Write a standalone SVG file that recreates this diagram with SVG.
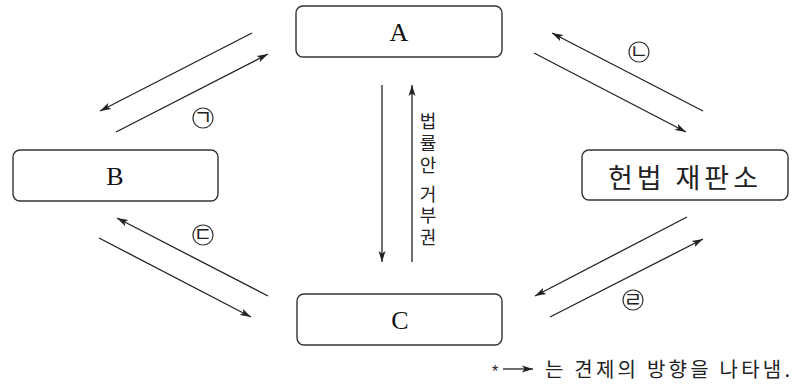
<svg xmlns="http://www.w3.org/2000/svg" width="797" height="388" viewBox="0 0 797 388">
<style>
.box{fill:#fff;stroke:#333;stroke-width:1.4}
.lbl{font-family:"Liberation Serif",serif;font-size:26px;fill:#111;text-anchor:middle}
.kr{font-family:"Noto Sans CJK KR","Noto Sans",sans-serif;fill:#222}
.ln{stroke:#222;stroke-width:1.3;fill:none;marker-end:url(#ah)}
.circ{fill:#fff;stroke:#333;stroke-width:1.2}
.mk{font-family:"Noto Sans CJK KR",sans-serif;font-size:20px;fill:#222;text-anchor:middle}
</style>
<defs>
<marker id="ah" markerUnits="userSpaceOnUse" markerWidth="12" markerHeight="8" refX="11" refY="4" orient="auto">
<path d="M0,0.5 L11,4 L0,7.5 L2.5,4 z" fill="#222"/>
</marker>
</defs>
<rect width="797" height="388" fill="#fff"/>
<g id="nodeA"><rect class="box" x="296" y="6" width="206" height="51" rx="7"/><text class="lbl" x="399" y="41">A</text></g>
<g id="nodeB"><rect class="box" x="13" y="150" width="205" height="51" rx="7"/><text class="lbl" x="115" y="185">B</text></g>
<g id="nodeC"><rect class="box" x="297" y="294" width="205" height="51" rx="7"/><text class="lbl" x="400" y="329">C</text></g>
<g id="nodeCourt"><rect class="box" x="582" y="150" width="206" height="50" rx="7"/><text class="kr" x="608" y="188" font-size="27" textLength="150" lengthAdjust="spacing">헌법 재판소</text></g>
<g id="connectors">
<line class="ln" x1="252" y1="33" x2="100" y2="111"/>
<line class="ln" x1="116" y1="132" x2="268" y2="54"/>
<line class="ln" x1="703" y1="111" x2="552" y2="33"/>
<line class="ln" x1="534" y1="53" x2="686" y2="132"/>
<line class="ln" x1="268" y1="296" x2="117" y2="218"/>
<line class="ln" x1="99" y1="238" x2="251" y2="317"/>
<line class="ln" x1="687" y1="217" x2="535" y2="296"/>
<line class="ln" x1="550" y1="317" x2="703" y2="239"/>
<line class="ln" x1="382" y1="85" x2="382" y2="262"/>
<line class="ln" x1="412" y1="262" x2="412" y2="85"/>
</g>
<g id="labels">
<circle class="circ" cx="203" cy="118" r="10"/><text class="mk" x="203" y="125">ㄱ</text>
<circle class="circ" cx="639" cy="52" r="10"/><text class="mk" x="639" y="59">ㄴ</text>
<circle class="circ" cx="203" cy="235" r="10"/><text class="mk" x="203" y="242">ㄷ</text>
<circle class="circ" cx="633" cy="300" r="10"/><text class="mk" x="633" y="307">ㄹ</text>
<text class="kr" font-size="18" text-anchor="middle" x="428 428 428 428 428 428 428" y="128 150 172 186 201 222 244">법률안 거부권</text>
</g>
<g id="legend">
<text x="495" y="377" font-family="Liberation Sans,sans-serif" font-size="16" fill="#222" text-anchor="middle">*</text>
<line class="ln" x1="503" y1="369" x2="533" y2="369"/>
<text class="kr" x="545" y="377" font-size="20" textLength="245" lengthAdjust="spacing">는 견제의 방향을 나타냄.</text>
</g>
</svg>
